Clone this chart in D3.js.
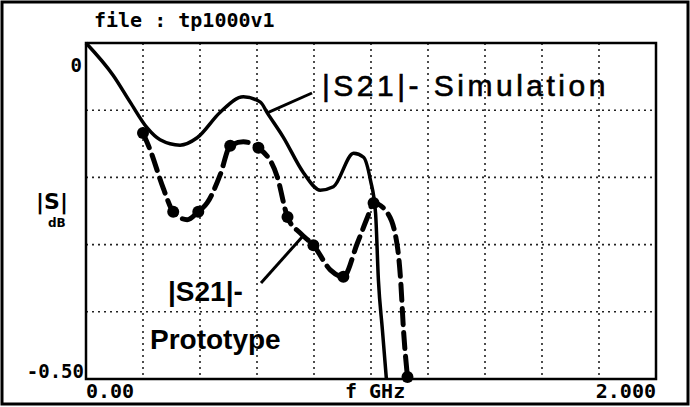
<!DOCTYPE html>
<html>
<head>
<meta charset="utf-8">
<script src="https://cdn.jsdelivr.net/npm/d3@7"></script>
<style>
  body { margin: 0; background: #fff; }
  svg { display: block; }
</style>
</head>
<body>
<div id="chart"></div>
<script>
var width = 690,
    height = 407;

// frequency (GHz) and |S21| (dB)
var simFreq = [0, 0.095, 0.155, 0.214, 0.26, 0.33, 0.39, 0.471, 0.552, 0.612, 0.636, 0.692, 0.763, 0.822, 0.868, 0.939, 0.974, 0.998, 1.016, 1.026, 1.04, 1.054];
var simDb   = [0, -0.048, -0.088, -0.126, -0.144, -0.152, -0.141, -0.103, -0.08, -0.088, -0.104, -0.14, -0.193, -0.219, -0.214, -0.164, -0.17, -0.204, -0.253, -0.353, -0.427, -0.5];

var protoFreq = [0.2, 0.225, 0.271, 0.306, 0.355, 0.394, 0.425, 0.471, 0.506, 0.552, 0.605, 0.671, 0.707, 0.752, 0.798, 0.858, 0.903, 0.952, 0.988, 1.009, 1.058, 1.093, 1.104, 1.114, 1.128];
var protoDb   = [-0.134, -0.159, -0.216, -0.251, -0.263, -0.251, -0.238, -0.196, -0.153, -0.147, -0.156, -0.199, -0.259, -0.283, -0.301, -0.338, -0.348, -0.298, -0.259, -0.238, -0.253, -0.304, -0.353, -0.427, -0.497];

// measured points (dots)
var dotFreq = [0.2, 0.306, 0.394, 0.506, 0.605, 0.707, 0.798, 0.903, 1.009, 1.128];
var dotDb   = [-0.134, -0.251, -0.251, -0.153, -0.156, -0.259, -0.301, -0.348, -0.238, -0.497];

var xTicks = d3.range(0, 2.0001, 0.2);
var yTicks = d3.range(-0.5, 0.0001, 0.1);

var x = d3.scaleLinear().domain([0, 2]).range([86, 656]);
var y = d3.scaleLinear().domain([-0.5, 0]).range([379, 43]);

var svg = d3.select("#chart").append("svg")
    .attr("width", width)
    .attr("height", height);

// outer frame
svg.append("rect")
    .attr("x", 2).attr("y", 2)
    .attr("width", width - 4).attr("height", height - 5)
    .style("fill", "none").style("stroke", "#000").style("stroke-width", 3);

// dotted grid
svg.append("g").selectAll("line")
    .data(xTicks.slice(1, -1))
  .enter().append("line")
    .attr("x1", function(d) { return x(d); }).attr("x2", function(d) { return x(d); })
    .attr("y1", y(0)).attr("y2", y(-0.5))
    .style("stroke", "#222").style("stroke-width", 1.6).style("stroke-dasharray", "2,4");

svg.append("g").selectAll("line")
    .data(yTicks.slice(1, -1))
  .enter().append("line")
    .attr("x1", x(0)).attr("x2", x(2))
    .attr("y1", function(d) { return y(d); }).attr("y2", function(d) { return y(d); })
    .style("stroke", "#222").style("stroke-width", 1.6).style("stroke-dasharray", "2,4");

// plot box
svg.append("rect")
    .attr("x", x(0)).attr("y", y(0))
    .attr("width", x(2) - x(0)).attr("height", y(-0.5) - y(0))
    .style("fill", "none").style("stroke", "#000").style("stroke-width", 2.5);

var line = d3.line()
    .x(function(d) { return x(d[0]); })
    .y(function(d) { return y(d[1]); })
    .curve(d3.curveMonotoneX);

var sim = d3.zip(simFreq, simDb);
var proto = d3.zip(protoFreq, protoDb);

svg.append("path")
    .datum(sim)
    .attr("d", line)
    .style("fill", "none").style("stroke", "#000").style("stroke-width", 3.5);

svg.append("path")
    .datum(proto)
    .attr("d", line)
    .style("fill", "none").style("stroke", "#000").style("stroke-width", 5)
    .style("stroke-dasharray", "16,8").style("stroke-linecap", "round");

svg.append("g").selectAll("circle")
    .data(d3.zip(dotFreq, dotDb))
  .enter().append("circle")
    .attr("cx", function(d) { return x(d[0]); })
    .attr("cy", function(d) { return y(d[1]); })
    .attr("r", 6)
    .style("fill", "#000");

// labels
var mono = "'DejaVu Sans Mono', monospace";

svg.append("text").attr("x", 94).attr("y", 27)
    .style("font-family", mono).style("font-weight", "bold").style("font-size", "20px")
    .text("file : tp1000v1");

svg.append("text").attr("x", 82).attr("y", y(0) + 29).attr("text-anchor", "end")
    .style("font-family", mono).style("font-weight", "bold").style("font-size", "19px")
    .text("0");

svg.append("text").attr("x", 84).attr("y", y(-0.5) - 1).attr("text-anchor", "end")
    .style("font-family", mono).style("font-weight", "bold").style("font-size", "19px")
    .text("-0.50");

svg.append("text").attr("x", x(0)).attr("y", 398)
    .style("font-family", mono).style("font-weight", "bold").style("font-size", "20px")
    .text("0.00");

svg.append("text").attr("x", 345).attr("y", 398)
    .style("font-family", mono).style("font-weight", "bold").style("font-size", "20px")
    .text("f GHz");

svg.append("text").attr("x", x(2)).attr("y", 398).attr("text-anchor", "end")
    .style("font-family", mono).style("font-weight", "bold").style("font-size", "20px")
    .text("2.000");

svg.append("text").attr("x", 36).attr("y", 209)
    .style("font-family", "'DejaVu Sans', sans-serif").style("font-weight", "bold").style("font-size", "22px")
    .text("|S|");

svg.append("text").attr("x", 48).attr("y", 227)
    .style("font-family", "'DejaVu Sans', sans-serif").style("font-weight", "bold").style("font-size", "12px")
    .text("dB");

// handwritten notes
var hand = "'Liberation Sans', sans-serif";

svg.append("line")
    .attr("x1", x(0.636)).attr("y1", y(-0.104))
    .attr("x2", 312).attr("y2", 93)
    .style("stroke", "#000").style("stroke-width", 3);

svg.append("text").attr("x", 322).attr("y", 96)
    .style("font-family", hand).style("font-size", "30px").style("letter-spacing", "3.5px")
    .style("stroke", "#000").style("stroke-width", 0.6)
    .text("|S21|- Simulation");

svg.append("line")
    .attr("x1", 261).attr("y1", 283)
    .attr("x2", 303).attr("y2", 236)
    .style("stroke", "#000").style("stroke-width", 3);

svg.append("text").attr("x", 168).attr("y", 301)
    .style("font-family", hand).style("font-size", "28px").style("font-weight", "bold")
    .text("|S21|-");

svg.append("text").attr("x", 150).attr("y", 349)
    .style("font-family", hand).style("font-size", "28px").style("font-weight", "bold")
    .text("Prototype");
</script>
</body>
</html>
